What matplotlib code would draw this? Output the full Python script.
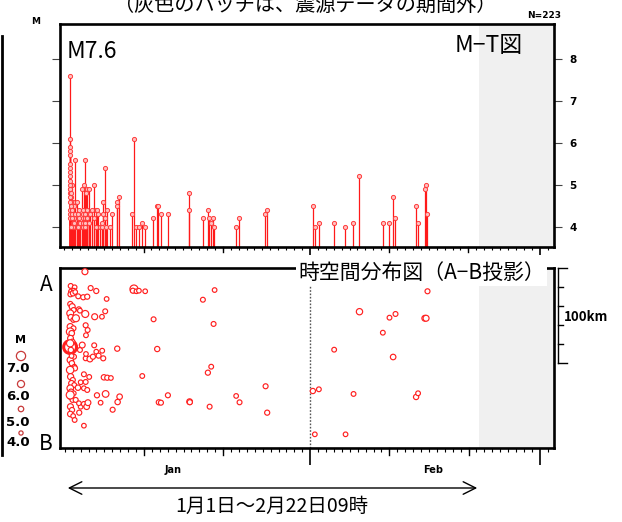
import matplotlib
matplotlib.use("Agg")
import matplotlib.pyplot as plt
from matplotlib.transforms import blended_transform_factory
import numpy as np

plt.rcParams['font.family'] = ['Noto Sans CJK JP', 'DejaVu Sans']

# time in days since 2024-01-01 00:00, magnitude, distance along A-B (km from A)
days_night = [0.674, 0.75, 1.25, 0.82, 1.15, 0.72, 1.05, 1.32, 0.70, 0.94, 1.12, 0.69, 0.78, 1.08, 0.70,
              1.10, 0.685, 0.88, 0.73, 0.96, 0.68, 0.71, 1.17, 0.90, 1.22, 1.28, 0.68, 0.74, 1.02, 0.85,
              1.20, 0.70, 0.80, 1.14, 0.76, 0.98, 0.72, 0.92, 0.70, 1.06, 0.69, 1.38, 1.25, 0.77, 0.86]
mags_night = [7.6, 4.2, 4.0, 4.5, 4.1, 4.3, 4.6, 4.0, 4.4, 5.0, 4.2, 5.5, 4.8, 4.1, 5.2,
              4.3, 5.9, 4.7, 4.9, 4.4, 5.7, 5.3, 4.2, 4.6, 4.0, 4.5, 5.8, 5.1, 4.3, 4.8,
              4.1, 5.4, 4.5, 4.0, 4.9, 4.2, 5.0, 4.4, 4.7, 4.0, 6.1, 4.3, 4.1, 4.6, 4.0]
km_night = [83.2, 18.9, 20.3, 24.9, 23.9, 27.7, 26.6, 25.3, 37.9, 40.7, 44.2, 47.7, 51.9, 54.7, 61.8,
            63.5, 67.1, 68.7, 74.0, 77.6, 79.3, 96.8, 93.4, 100.3, 103.9, 105.6, 107.4, 114.4, 117.9, 121.4,
            123.2, 126.6, 130.2, 131.9, 135.5, 138.9, 146.0, 149.5, 153.7, 155.8, 133.7, 138.9, 160.0, 86.3, 92.6]

days_week = [1.41, 1.67, 1.70, 1.79, 1.83, 1.92, 1.92, 2.01, 2.01, 1.79, 2.21, 2.34, 2.42, 2.42, 2.42,
             2.42, 2.55, 2.59, 2.64, 2.64, 2.64, 2.68, 2.68, 2.77, 2.84, 2.84, 2.89, 2.93, 3.09, 3.18,
             3.27, 3.56, 3.72, 3.78, 3.98, 3.98, 4.07, 4.28, 4.53, 4.70, 4.73, 4.86, 4.95, 5.11, 5.16,
             5.29, 5.37, 5.83, 6.05, 6.63, 6.68, 6.93]
mags_week = [5.6, 4.6, 4.2, 4.3, 4.4, 4.1, 4.2, 4.0, 4.1, 4.0, 4.9, 4.4, 4.2, 4.1, 4.3,
             4.0, 5.0, 5.6, 4.3, 4.1, 4.2, 4.1, 4.0, 4.8, 4.4, 4.2, 4.2, 4.9, 4.1, 4.9,
             4.3, 4.4, 4.2, 5.0, 4.4, 4.0, 4.4, 4.3, 4.0, 4.0, 4.1, 4.3, 4.6, 4.2, 5.4,
             4.0, 4.4, 4.0, 4.3, 4.5, 4.6, 4.7]
km_week = [52.9, 126.0, 29.8, 43.5, 152.3, 44.9, 86.3, 120.3, 146.0, 142.4, 81.1, 30.8, 111.9, 126.6, 143.2,
           166.0, 3.9, 48.4, 60.3, 95.1, 120.0, 70.8, 90.5, 146.0, 30.2, 128.4, 65.3, 141.8, 114.7, 95.8,
           21.1, 93.4, 81.4, 51.3, 24.2, 88.1, 134.0, 92.3, 141.8, 51.3, 87.1, 95.1, 115.1, 45.6, 132.6,
           32.6, 115.5, 115.8, 149.2, 84.9, 141.1, 135.5]

days_late = [8.74, 8.60, 9.06, 9.37, 9.79, 10.16, 11.22, 11.68, 11.89, 12.15, 13.03, 15.77, 15.80, 17.45, 18.08,
             18.30, 18.50, 18.80, 18.93, 21.65, 22.08, 25.37, 25.57, 31.34, 31.59, 32.10, 34.03, 35.47, 36.48, 37.23,
             40.18, 41.02, 41.48, 41.78, 44.38, 44.63, 45.48, 45.64, 45.82]
mags_late = [6.1, 4.3, 4.0, 4.0, 4.1, 4.0, 4.2, 4.5, 4.5, 4.3, 4.3, 4.8, 4.4, 4.2, 4.4,
             4.2, 4.1, 4.2, 4.0, 4.0, 4.2, 4.3, 4.4, 4.5, 4.0, 4.1, 4.1, 4.0, 4.1, 5.2,
             4.1, 4.1, 4.7, 4.2, 4.5, 4.1, 4.9, 5.0, 4.3]
km_late = [22.1, 23.9, 24.5, 23.9, 113.7, 24.5, 54.0, 85.3, 141.4, 141.8, 134.0, 140.7, 141.3, 33.4, 110.2,
           146.0, 103.9, 58.9, 23.2, 134.7, 141.4, 124.5, 152.3, 129.5, 175.1, 127.7, 86.0, 175.1, 132.6, 46.0,
           68.1, 52.3, 93.7, 48.4, 135.8, 131.9, 52.9, 52.9, 24.5]

data_end = 52.375          # 2月22日09時
month_ticks = [31, 60]     # Feb 1, Mar 1
dekad_ticks = [10, 20, 41, 51]
month_labels = ['Jan', 'Feb']
month_label_pos = [13.7, 46.5]
mag_ticks = [4, 5, 6, 7, 8]
legend_mags = [7.0, 6.0, 5.0, 4.0]
scale_km = [0, 20, 40, 60, 80, 100]

days = np.array(days_night + days_week + days_late)
mags = np.array(mags_night + mags_week + mags_late)
km = np.array(km_night + km_week + km_late)

W, H = 622, 522
fig = plt.figure(figsize=(W / 100, H / 100), dpi=100)


def box(x0, y0, x1, y1):
    return [x0 / W, 1 - y1 / H, (x1 - x0) / W, (y1 - y0) / H]


def size_pt2(m, base=2.0):
    r = base * 1.3 ** (np.asarray(m) - 4.0)   # radius in px
    return (2 * r * 0.72) ** 2


xlim = (-0.6, 61.8)
gray = '#f0f0f0'

# ---------------- M-T diagram ----------------
ax1 = fig.add_axes(box(59.5, 24, 554, 247))
ymin = 3.52
ax1.set_xlim(*xlim)
ax1.set_ylim(ymin, 8.83)
ax1.axvspan(data_end, xlim[1], color=gray, lw=0, zorder=0)
ax1.vlines(days, ymin, mags, color='#ff1a1a', lw=0.9, zorder=2)
ax1.plot(days, mags, 'o', ms=3.0, mfc='#ffc0c0', mec='#ff3b3b', mew=0.7, ls='none', zorder=3)

ax1.set_yticks(mag_ticks)
ax1.yaxis.set_ticks_position('both')
ax1.tick_params(axis='y', which='major', direction='out', length=6, width=0.8,
                left=True, right=True, labelleft=False, labelright=True,
                labelsize=7.5, pad=5, color='#444444')
for lab in ax1.get_yticklabels():
    lab.set_fontweight('bold')
    lab.set_family('DejaVu Sans')

# ---------------- space-time diagram ----------------
ax2 = fig.add_axes(box(60, 268, 554, 448))
ax2.set_xlim(*xlim)
ax2.set_ylim(189.5, 0)
ax2.axvspan(data_end, xlim[1], color=gray, lw=0, zorder=0)
ax2.axvline(31, color='#555555', lw=1.0, ls=(0, (1.2, 1.2)), zorder=1)
lw = np.where(mags >= 7, 2.2, 0.85)
sizes = np.where(mags >= 7, size_pt2(mags, 2.5), size_pt2(mags, 2.3))
ax2.scatter(days, km, s=sizes, facecolors='white', edgecolors='#ff2020',
            linewidths=lw, zorder=3)
ax2.set_yticks([])

for ax, big, mid, small in [(ax1, 6, 3.5, 2.2), (ax2, 12, 5, 2.8)]:
    ax.set_xticks(month_ticks)
    ax.set_xticks(np.arange(0, 62), minor=True)
    ax.tick_params(axis='x', which='major', direction='out', length=big, width=1.2, labelbottom=False)
    ax.tick_params(axis='x', which='minor', direction='out', length=small, width=0.8)
    trans = blended_transform_factory(ax.transData, ax.transAxes)
    for d in dekad_ticks:
        ax.plot([d, d], [0, -mid / (ax.bbox.height * 72 / 100)], color='black', lw=1.0,
                transform=trans, clip_on=False)
    for s in ax.spines.values():
        s.set_linewidth(1.9)

# scale bar (100 km)
trans2 = blended_transform_factory(ax2.transAxes, ax2.transData)
ax2.plot([1.009, 1.009], [scale_km[0], scale_km[-1]], color='black', lw=1.0, transform=trans2, clip_on=False)
for k in scale_km:
    x_end = 1.027 if k in (scale_km[0], scale_km[-1]) else 1.019
    ax2.plot([1.009, x_end], [k, k], color='black', lw=1.0, transform=trans2, clip_on=False)
ax2.text(1.02, 52, '100km', transform=trans2, fontsize=9.5, fontweight='bold',
         va='center', ha='left')

# month names under the axis
trans_lab = blended_transform_factory(ax2.transData, fig.transFigure)
for pos, lab in zip(month_label_pos, month_labels):
    ax2.text(pos, 1 - 470 / H, lab, transform=trans_lab, fontsize=7, fontweight='bold',
             family='DejaVu Sans', ha='center', va='center')

# ---------------- overlay texts (pixel coordinates) ----------------
ov = fig.add_axes([0, 0, 1, 1])
ov.set_xlim(0, W)
ov.set_ylim(H, 0)
ov.axis('off')

ov.text(305, 5, '（灰色のハッチは、震源データの期間外）', fontsize=14.5, ha='center', va='center')
ov.text(527, 16, 'N=223', fontsize=6.5, fontweight='bold', family='DejaVu Sans', ha='left', va='center')
ov.text(36, 22, 'M', fontsize=6.5, fontweight='bold', family='DejaVu Sans', ha='center', va='center')
ov.text(67, 51, 'M7.6', fontsize=16.5, ha='left', va='center')
ov.text(455, 45, 'M−T図', fontsize=16.5, ha='left', va='center')
ov.text(298, 273, '時空間分布図（A−B投影）', fontsize=15, ha='left', va='center',
        bbox=dict(facecolor='white', edgecolor='none', pad=1.5))
ov.text(46, 285, 'A', fontsize=15, ha='center', va='center')
ov.text(46, 444, 'B', fontsize=15, ha='center', va='center')

# left edge remnant of neighbouring panel
ov.plot([2, 2], [36, 455], color='black', lw=2.0)

# magnitude legend
ov.text(20, 340, 'M', fontsize=8, fontweight='bold', family='DejaVu Sans', ha='center', va='center')
leg_y = [356, 384, 409, 433]
lab_y = [369, 397, 422, 443]
ov.scatter([21] * len(legend_mags), leg_y, s=size_pt2(legend_mags, 2.1), facecolors='none',
           edgecolors='#c83a3a', linewidths=0.9)
for m, y in zip(legend_mags, lab_y):
    ov.text(18, y, f'{m:.1f}', fontsize=9.5, fontweight='bold', family='DejaVu Sans',
            ha='center', va='center')

# period arrow
ov.annotate('', xy=(480, 488), xytext=(65, 488),
            arrowprops=dict(arrowstyle='<->,head_length=0.9,head_width=0.45', lw=1.0, color='black'))
ov.text(272, 506, '1月1日〜2月22日09時', fontsize=14, ha='center', va='center')

fig.savefig('out.png', dpi=100)
